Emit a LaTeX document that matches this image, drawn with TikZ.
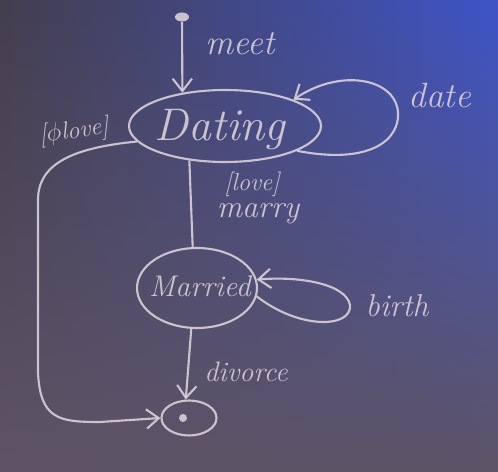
\documentclass[tikz,border=0pt]{standalone}
\usetikzlibrary{shapes.geometric,arrows.meta,fadings}
\definecolor{bgL}{RGB}{68,62,78}
\definecolor{bgR}{RGB}{62,84,200}
\definecolor{bgB}{RGB}{94,84,102}
\definecolor{chalk}{RGB}{218,208,218}
\tikzfading[name=fadeup, top color=transparent!100, bottom color=transparent!0]
\begin{document}
\begin{tikzpicture}[x=0.02cm,y=-0.02cm,
  chalkline/.style={draw=chalk, line width=1.2pt, opacity=0.9},
  chalkarrow/.style={chalkline, -{Straight Barb[length=7pt,width=11pt,line width=1.2pt]}},
  state/.style={ellipse, chalkline, inner sep=0pt},
  lbl/.style={text=chalk, font=\itshape, inner sep=0pt, opacity=0.9}]
\useasboundingbox (0,0) rectangle (498,472);
\shade[left color=bgL, right color=bgR] (0,0) rectangle (498,472);
\fill[bgB, path fading=fadeup] (0,0) rectangle (498,472);
% states
\node[fill=chalk, ellipse, minimum width=0.28cm, minimum height=0.18cm, inner sep=0pt, opacity=0.9] (init) at (182,17) {};
\node[state, minimum width=3.84cm, minimum height=1.44cm] (Dating) at (225,126) {};
\node[lbl, font=\itshape\fontsize{26}{30}\selectfont] (tDating) at (220,130) {Dating};
\node[state, minimum width=2.4cm, minimum height=1.6cm] (Married) at (197,288) {};
\node[lbl, font=\itshape\fontsize{17}{20}\selectfont] (tMarried) at (200,286) {Married};
\node[state, minimum width=1.1cm, minimum height=0.7cm] (final) at (189,418) {};
\node[fill=chalk, circle, minimum size=0.16cm, inner sep=0pt, opacity=0.9] (dot) at (183,418) {};
% transitions
\draw[chalkarrow] (init) -- (Dating.142);
\node[lbl, font=\itshape\fontsize{20}{24}\selectfont] (meet) at (240,44) {meet};
\draw[chalkarrow] (Dating.-19) .. controls (370,165) and (400,140) .. (398,112)
  .. controls (395,78) and (340,68) .. (Dating.21);
\node[lbl, font=\itshape\fontsize{20}{24}\selectfont] (date) at (440,95) {date};
\draw[chalkline] (Dating.-136) -- (Married.96);
\node[lbl, font=\itshape\fontsize{14}{17}\selectfont] (love) at (252,184) {[love]};
\node[lbl, font=\itshape\fontsize{18}{21}\selectfont] (marry) at (258,214) {marry};
\draw[chalkarrow] (Married.-8) .. controls (300,330) and (352,328) .. (350,305)
  .. controls (346,284) and (300,276) .. (Married.8);
\node[lbl, font=\itshape\fontsize{18}{21}\selectfont] (birth) at (397,306) {birth};
\draw[chalkarrow] (Married.-98) -- (final.100);
\node[lbl, font=\itshape\fontsize{16}{19}\selectfont] (divorce) at (246,372) {divorce};
\coordinate (c1) at (38,200);
\coordinate (c2) at (38,372);
\draw[chalkarrow] (Dating.190) .. controls (70,148) and (38,165) .. (c1) -- (c2)
  .. controls (40,420) and (60,422) .. (100,422) -- (final.west);
\node[lbl, font=\itshape\fontsize{14}{17}\selectfont, rotate=8] (notlove) at (74,132) {[$\phi$love]};
\end{tikzpicture}
\end{document}
